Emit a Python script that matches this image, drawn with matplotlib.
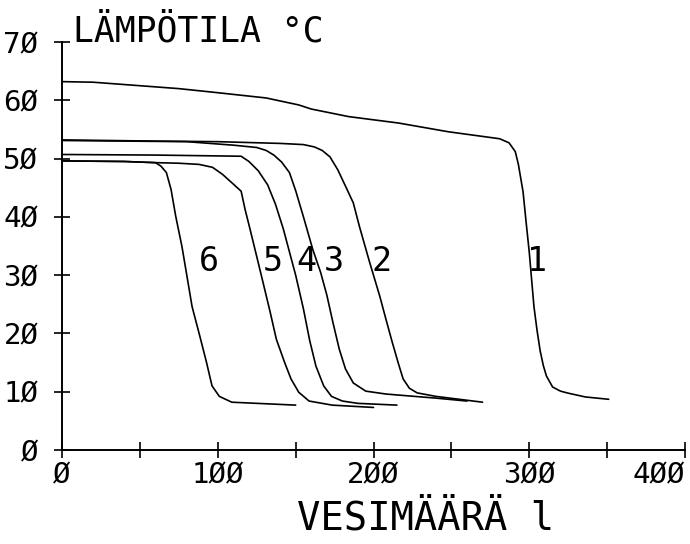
import matplotlib
matplotlib.use('Agg')
import matplotlib.pyplot as plt

# kayrat 1..6 (vesimaara l, lampotila C), luettu kuvasta
x1 = [0, 20, 40, 75, 100, 131, 145, 152, 160, 184, 216, 248, 281, 287, 291, 293, 296, 298, 300,
      303, 305, 307, 309, 311, 315, 320, 325, 336, 351]
y1 = [63.2, 63.1, 62.7, 62.0, 61.3, 60.4, 59.6, 59.2, 58.5, 57.2, 56.1, 54.6, 53.4, 52.7, 51.2, 49.0, 44.3, 39.0, 33.9,
      24.6, 20.5, 17.0, 14.5, 12.7, 10.8, 10.1, 9.75, 9.1, 8.7]

x2 = [0, 60, 100, 140, 155, 162, 167, 172, 177, 183, 187, 191, 197.5, 204, 208, 212, 216, 219, 223, 228,
      240, 255, 270]
y2 = [53.2, 53.0, 52.9, 52.6, 52.4, 52.0, 51.4, 50.3, 48.1, 44.7, 42.4, 38.3, 32.2, 26.4, 22.4, 18.5, 14.8, 12.2, 10.6, 9.8,
      9.2, 8.7, 8.2]

x3 = [0, 40, 80, 110, 125, 131, 136, 141, 146, 150, 155, 161, 166, 170, 174, 178, 182, 187, 195, 208, 240, 260]
y3 = [53.1, 53.0, 52.9, 52.3, 51.9, 51.4, 50.6, 49.4, 47.6, 44.5, 40.0, 34.4, 30.5, 26.6, 21.8, 17.3, 13.9, 11.5, 10.1,
      9.6, 8.9, 8.4]

x4 = [0, 60, 115, 120, 126, 132, 137, 142, 146, 150, 155, 159, 163, 168, 173, 180, 190, 215]
y4 = [50.7, 50.6, 50.4, 49.5, 47.9, 45.5, 42.2, 38.0, 34.0, 30.0, 24.2, 18.8, 14.4, 11.0, 9.2, 8.4, 8.0, 7.7]

x5 = [0, 40, 60, 75, 88, 96.6, 103, 108, 115, 117.5, 120.7, 125, 129, 133.6, 137.6, 142.8, 147, 152, 158.6,
      173.4, 200]
y5 = [49.6, 49.5, 49.3, 49.2, 49.0, 48.5, 47.3, 46.1, 44.4, 41.3, 37.9, 33.2, 28.8, 23.7, 19.0, 15.1, 12.2, 9.9, 8.4,
      7.7, 7.3]

x6 = [0, 40, 60, 63.5, 67, 70, 73, 77, 83.5, 88.5, 92.7, 96.3, 101, 109, 150]
y6 = [49.6, 49.5, 49.3, 48.7, 47.6, 44.7, 40.1, 34.9, 24.6, 19.5, 15.1, 11.0, 9.2, 8.2, 7.7]

curves = [(x1, y1), (x2, y2), (x3, y3), (x4, y4), (x5, y5), (x6, y6)]
nimet = ['1', '2', '3', '4', '5', '6']
nimi_x = [305, 205, 174.6, 156.7, 135, 94.4]

xticks = [0, 100, 200, 300, 400]
xlabels = ['Ø', '1ØØ', '2ØØ', '3ØØ', '4ØØ']
yticks = [0, 10, 20, 30, 40, 50, 60, 70]
ylabels = ['Ø', '1Ø', '2Ø', '3Ø', '4Ø', '5Ø', '6Ø', '7Ø']

plt.rcParams['font.family'] = ['DejaVu Sans Mono', 'DejaVu Sans']

fig = plt.figure(figsize=(6.9, 5.44), dpi=100)
ax = fig.add_axes([0.0899, 0.1728, 0.9029, 0.75])

for xs, ys in curves:
    ax.plot(xs, ys, color='black', linewidth=1.2, clip_on=False,
            solid_joinstyle='round', solid_capstyle='round')

for n, xn in zip(nimet, nimi_x):
    ax.text(xn, 32.3, n, fontsize=24, ha='center', va='center')

ax.set_xlim(0, 400)
ax.set_ylim(0, 70)
ax.spines['top'].set_visible(False)
ax.spines['right'].set_visible(False)
ax.spines['left'].set_linewidth(1.4)
ax.spines['bottom'].set_linewidth(1.4)

ax.set_xticks(xticks)
ax.set_xticklabels(xlabels, fontsize=21)
ax.set_xticks([50, 150, 250, 350], minor=True)
ax.set_yticks(yticks)
ax.set_yticklabels(ylabels, fontsize=21)
ax.tick_params(which='both', direction='inout', length=12, width=1.2)
ax.tick_params(axis='x', pad=2)
ax.tick_params(axis='y', pad=11)
ax.get_xticklabels()[-1].set_ha('right')

ax.text(7, 70, 'LÄMPÖTILA °C', fontsize=25, ha='left', va='baseline')
fig.text(0.617, 0.026, 'VESIMÄÄRÄ l', fontsize=28, ha='center', va='baseline')

fig.savefig('out.png', dpi=100)
